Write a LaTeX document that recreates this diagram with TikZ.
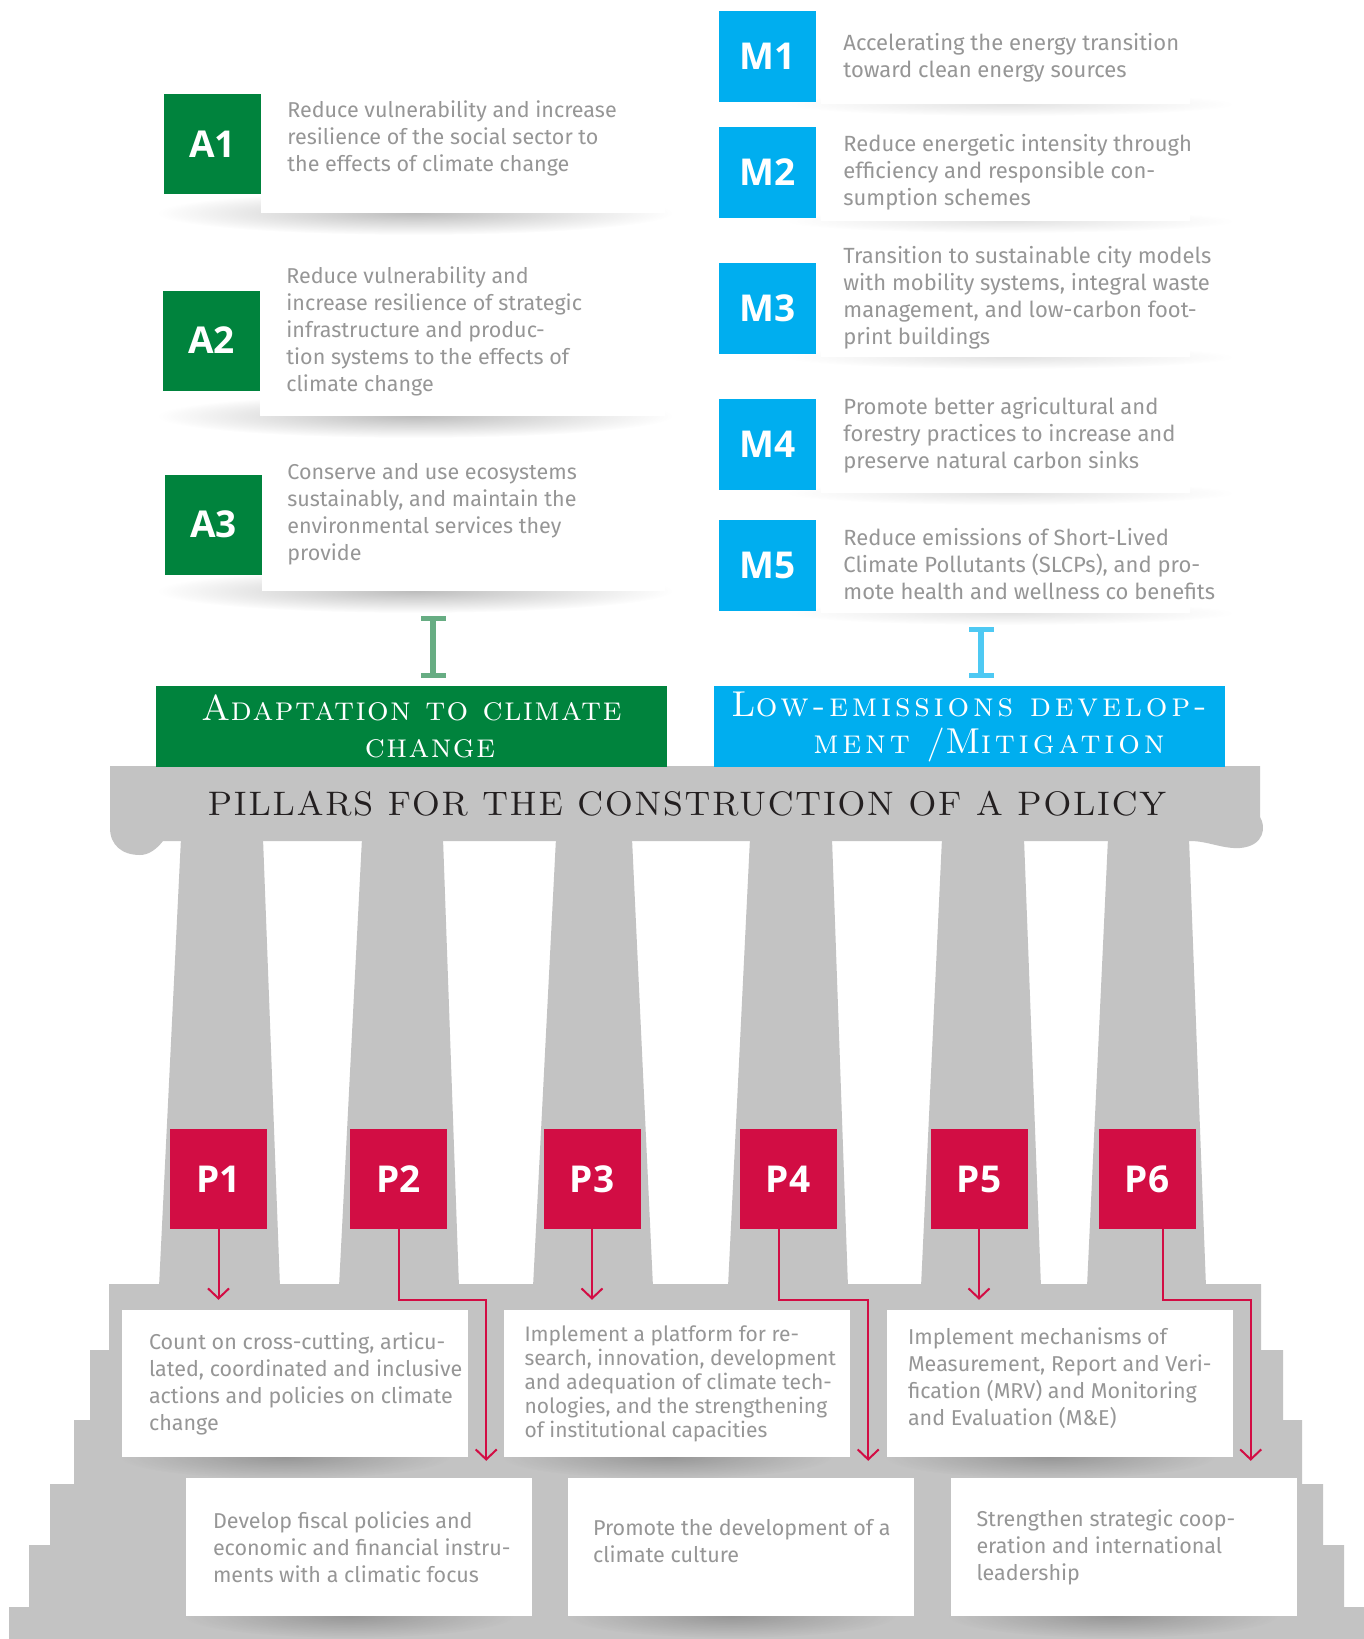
\documentclass[tikz,border=0pt]{standalone}
\usepackage{fontspec}
\usepackage{xcolor}
\usepackage{tikz}
\usetikzlibrary{calc, arrows.meta, fadings}

\newfontfamily\bodyfont{Fira Sans}
\newfontfamily\tagfont{Open Sans}
\newfontfamily\bannerfont{lmromancaps10-regular.otf}[LetterSpace=4]
\newfontfamily\bluebannerfont{lmromancaps10-regular.otf}[LetterSpace=11]
\newfontfamily\titlefont{lmromancaps10-regular.otf}[LetterSpace=2.5]

\definecolor{adaptgreen}{HTML}{00833D}
\definecolor{mitigblue}{HTML}{00AEEF}
\definecolor{pillarred}{HTML}{D20D44}
\definecolor{stonegray}{HTML}{C3C3C3}
\definecolor{cardtext}{HTML}{969696}
\definecolor{titleink}{HTML}{231F20}
\definecolor{greenbeam}{HTML}{67AD83}
\definecolor{bluebeam}{HTML}{4EC9F3}

\tikzfading[name=softshade, inner color=transparent!25, outer color=transparent!100]

\tikzset{
	tagbox/.style={minimum width=97pt, minimum height=#1, inner sep=0pt, text=white, font=\tagfont\bfseries\fontsize{37}{37}\selectfont},
	toptext/.style={anchor=west, align=left, inner sep=0pt, text=cardtext, font=\bodyfont\fontsize{21.5}{27}\selectfont},
	rowcard/.style={fill=white, minimum width=346pt, minimum height=#1, inner sep=0pt},
	banner/.style={minimum width=511pt, minimum height=81pt, inner sep=0pt, align=center, text=white, font=\bannerfont\fontsize{34}{37}\selectfont},
	beam/.style={line width=6pt, {Rectangle[width=25pt,length=5pt]}-{Rectangle[width=25pt,length=5pt]}},
	parrow/.style={draw=pillarred, line width=2pt, -{Straight Barb[length=10pt,width=21pt,line width=2pt]}},
	softshadow/.style={fill=black, opacity=#1, path fading=softshade}
}

\begin{document}
\begin{tikzpicture}[x=1pt, y=-1pt]
				\def\cardAright{665};
				\def\cardMright{1190};
				\useasboundingbox (0,0) rectangle (1364,1639);

				\begin{scope}[stonegray]
					\fill (110,766) -- (1260,766) -- (1260,817) .. controls (1266,826) and (1265,846) .. (1240,848)
						.. controls (1222,849) and (1208,841) .. (1190,841) -- (163,841)
						.. controls (156,850) and (148,855) .. (140,855) .. controls (122,855) and (110,845) .. (110,828) -- cycle;
					\fill (181,838) -- (263,838) -- (280,1287) -- (159,1287) -- cycle;
					\fill (362,838) -- (443,838) -- (459,1287) -- (339,1287) -- cycle;
					\fill (556,838) -- (632,838) -- (653,1287) -- (533,1287) -- cycle;
					\fill (750,838) -- (832,838) -- (848,1287) -- (728,1287) -- cycle;
					\fill (942,838) -- (1024,838) -- (1041,1287) -- (921,1287) -- cycle;
					\fill (1108,838) -- (1189,838) -- (1206,1287) -- (1087,1287) -- cycle;
					\fill (109,1284) -- (1261,1284) -- (1261,1350) -- (1283,1350) -- (1283,1420) -- (1302,1420)
						-- (1302,1484) -- (1323,1484) -- (1323,1545) -- (1344,1545) -- (1344,1607) -- (1364,1607)
						-- (1364,1639) -- (9,1639) -- (9,1607) -- (29,1607) -- (29,1545) -- (50,1545) -- (50,1484)
						-- (74,1484) -- (74,1420) -- (90,1420) -- (90,1350) -- (109,1350) -- cycle;
				\end{scope}

				\begin{scope}
					\fill[softshadow=0.35] (415,213) ellipse (258 and 22);
					\fill[softshadow=0.35] (415,416) ellipse (258 and 22);
					\fill[softshadow=0.35] (415,591) ellipse (258 and 22);
					\fill[softshadow=0.15] (1010,104) ellipse (225 and 12);
					\fill[softshadow=0.15] (1010,221) ellipse (225 and 12);
					\fill[softshadow=0.15] (1010,357) ellipse (225 and 12);
					\fill[softshadow=0.15] (1010,493) ellipse (225 and 12);
					\fill[softshadow=0.15] (1010,613) ellipse (225 and 12);
					\fill[softshadow=0.3] (285,1457) ellipse (165 and 22);
					\fill[softshadow=0.3] (667,1457) ellipse (165 and 22);
					\fill[softshadow=0.3] (1050,1457) ellipse (165 and 22);
					\fill[softshadow=0.3] (349,1616) ellipse (165 and 22);
					\fill[softshadow=0.3] (731,1616) ellipse (165 and 22);
					\fill[softshadow=0.3] (1113,1616) ellipse (165 and 22);
				\end{scope}

				\begin{scope}
					\node[tagbox=100pt, fill=adaptgreen] (a1) at (212.5,144) {A1};
					\node[tagbox=100pt, fill=adaptgreen] (a2) at (211.5,340.5) {A2};
					\node[tagbox=100pt, fill=adaptgreen] (a3) at (213.5,524.5) {A3};
					\fill[white] (a1.north east) rectangle (\cardAright,213);
					\fill[white] (a2.north east) rectangle (\cardAright,416);
					\fill[white] (a3.north east) rectangle (\cardAright,591);
					\node[toptext, yshift=6pt] (a1text) at ([xshift=26pt]a1.east) {Reduce vulnerability and increase\\resilience of the social sector to\\the effects of climate change};
					\node[toptext, yshift=9pt] (a2text) at ([xshift=26pt]a2.east) {Reduce vulnerability and\\increase resilience of strategic\\infrastructure and produc-\\tion systems to the effects of\\climate change};
					\node[toptext, yshift=10pt] (a3text) at ([xshift=25pt]a3.east) {Conserve and use ecosystems\\sustainably, and maintain the\\environmental services they\\provide};
				\end{scope}

				\begin{scope}
					\node[tagbox=91pt, fill=mitigblue] (m1) at (767.5,56.5) {M1};
					\node[tagbox=91pt, fill=mitigblue] (m2) at (767.5,172.5) {M2};
					\node[tagbox=91pt, fill=mitigblue] (m3) at (767.5,308) {M3};
					\node[tagbox=91pt, fill=mitigblue] (m4) at (767.5,444) {M4};
					\node[tagbox=91pt, fill=mitigblue] (m5) at (767.5,565.5) {M5};
					\fill[white] ([xshift=5pt]m1.north east) rectangle (\cardMright,104);
					\fill[white] ([xshift=5pt]m2.north east) rectangle (\cardMright,221);
					\fill[white] ([xshift=5pt]m3.north east) rectangle (\cardMright,357);
					\fill[white] ([xshift=5pt]m4.north east) rectangle (\cardMright,493);
					\fill[white] ([xshift=5pt]m5.north east) rectangle (\cardMright,613);
					\node[toptext, font=\bodyfont\fontsize{22}{27}\selectfont, yshift=-1pt] (m1text) at ([xshift=27pt]m1.east) {Accelerating the energy transition\\toward clean energy sources};
					\node[toptext, font=\bodyfont\fontsize{22}{27}\selectfont] (m2text) at ([xshift=27pt]m2.east) {Reduce energetic intensity through\\efficiency and responsible con-\\sumption schemes};
					\node[toptext, font=\bodyfont\fontsize{22}{27}\selectfont, yshift=10pt] (m3text) at ([xshift=27pt]m3.east) {Transition to sustainable city models\\with mobility systems, integral waste\\management, and low-carbon foot-\\print buildings};
					\node[toptext, font=\bodyfont\fontsize{22}{27}\selectfont, yshift=9pt] (m4text) at ([xshift=27pt]m4.east) {Promote better agricultural and\\forestry practices to increase and\\preserve natural carbon sinks};
					\node[toptext, font=\bodyfont\fontsize{22}{27}\selectfont, yshift=1pt] (m5text) at ([xshift=27pt]m5.east) {Reduce emissions of Short-Lived\\Climate Pollutants (SLCPs), and pro-\\mote health and wellness co benefits};
				\end{scope}

				\node[banner, fill=adaptgreen] (gbanner) at (411.5,726.5) {{\fontsize{36}{37}\selectfont A}daptation to climate\\\hspace*{37pt}change};
				\node[banner, fill=mitigblue, font=\bluebannerfont\fontsize{34}{37}\selectfont] (bbanner) at (969,726.5) {{\fontsize{36}{37}\selectfont L}ow-emissions develop-\\\hspace*{40pt}ment /{\fontsize{36}{37}\selectfont M}itigation};
				\node[text=titleink, font=\titlefont\fontsize{34}{34}\selectfont, anchor=base] (title) at (687,815) {PILLARS FOR THE CONSTRUCTION OF A POLICY};

				\coordinate (gbeamtop) at (433,616);
				\coordinate (gbeambot) at (433,678);
				\coordinate (bbeamtop) at (981,627);
				\coordinate (bbeambot) at (981,678);
				\draw[beam, greenbeam] (gbeamtop) -- (gbeambot);
				\draw[beam, bluebeam] (bbeamtop) -- (bbeambot);

				\begin{scope}[every node/.style={tagbox=100pt, fill=pillarred}]
					\node (p1) at (218.5,1179) {P1};
					\node (p2) at (398.5,1179) {P2};
					\node (p3) at (592,1179) {P3};
					\node (p4) at (788,1179) {P4};
					\node (p5) at (979,1179) {P5};
					\node (p6) at (1147,1179) {P6};
				\end{scope}

				\begin{scope}
					\node[rowcard=147pt] (c1) at (295,1383.5) {};
					\node[rowcard=147pt] (c3) at (676.5,1383.5) {};
					\node[rowcard=147pt] (c5) at (1060,1383.5) {};
					\node[rowcard=138pt] (c2) at (359,1547) {};
					\node[rowcard=138pt] (c4) at (741,1547) {};
					\node[rowcard=138pt] (c6) at (1123.5,1547) {};
					\node[toptext] (c1text) at ([xshift=27pt]c1.west) {Count on cross-cutting, articu-\\lated, coordinated and inclusive\\actions and policies on climate\\change};
					\node[toptext, font=\bodyfont\fontsize{21}{24}\selectfont] (c3text) at ([xshift=21pt]c3.west) {Implement a platform for re-\\search, innovation, development\\and adequation of climate tech-\\nologies, and the strengthening\\of institutional capacities};
					\node[toptext, yshift=5pt] (c5text) at ([xshift=21pt]c5.west) {Implement mechanisms of\\Measurement, Report and Veri-\\fication (MRV) and Monitoring\\and Evaluation (M\&E)};
					\node[toptext] (c2text) at ([xshift=27pt]c2.west) {Develop fiscal policies and\\economic and financial instru-\\ments with a climatic focus};
					\node[toptext, yshift=6pt] (c4text) at ([xshift=25pt]c4.west) {Promote the development of a\\climate culture};
					\node[toptext] (c6text) at ([xshift=26pt]c6.west) {Strengthen strategic coop-\\eration and international\\leadership};
				\end{scope}

				\begin{scope}[shorten >=1pt]
					\draw[parrow, shorten >=10pt] (p1.south) -- (p1.south |- c1.north);
					\draw[parrow, shorten >=10pt] (p3.south) -- (p3.south |- c3.north);
					\draw[parrow, shorten >=10pt] (p5.south) -- (p5.south |- c5.north);
					\draw[parrow, shorten >=17pt] (p2.south) -- ++(0,71) -| ($(c2.north east)+(-46,0)$);
					\draw[parrow, shorten >=17pt] ([xshift=-9pt]p4.south) -- ++(0,71) -| ($(c4.north east)+(-46,0)$);
					\draw[parrow, shorten >=17pt] ([xshift=16pt]p6.south) -- ++(0,71) -| ($(c6.north east)+(-46,0)$);
				\end{scope}
			\end{tikzpicture}
\end{document}
